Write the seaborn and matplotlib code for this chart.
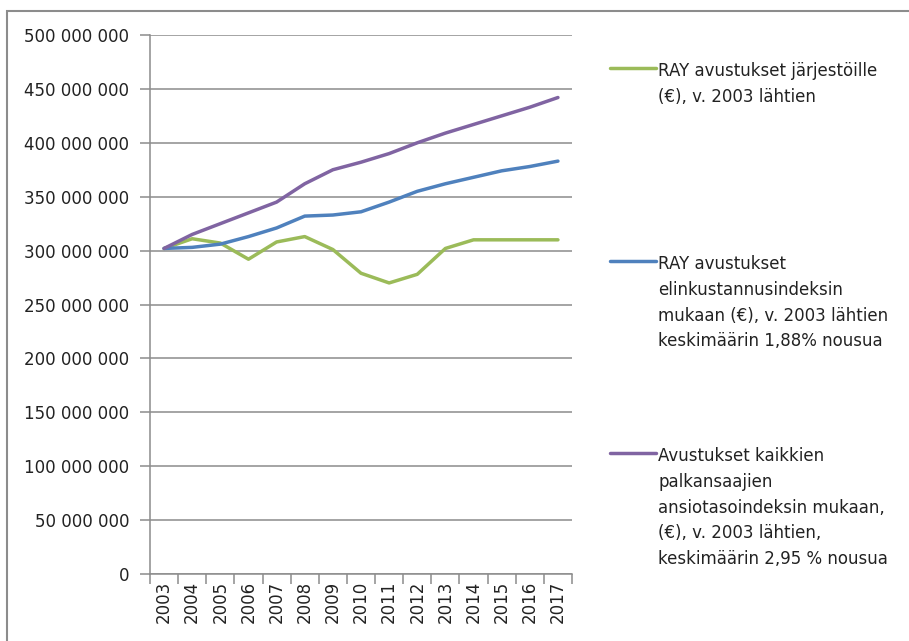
import matplotlib
matplotlib.use("Agg")
import matplotlib.pyplot as plt
import matplotlib.ticker as mticker
from matplotlib.lines import Line2D
from matplotlib.patches import Rectangle
import numpy as np
import pandas as pd
import seaborn as sns

years = ["2003", "2004", "2005", "2006", "2007", "2008", "2009", "2010",
         "2011", "2012", "2013", "2014", "2015", "2016", "2017"]

ray_avustukset = [302e6, 311e6, 307e6, 292e6, 308e6, 313e6, 301e6, 279e6,
                  270e6, 278e6, 302e6, 310e6, 310e6, 310e6, 310e6]
elinkustannus = [302e6, 303e6, 306e6, 313e6, 321e6, 332e6, 333e6, 336e6,
                 345e6, 355e6, 362e6, 368e6, 374e6, 378e6, 383e6]
ansiotaso = [302e6, 315e6, 325e6, 335e6, 345e6, 362e6, 375e6, 382e6,
             390e6, 400e6, 409e6, 417e6, 425e6, 433e6, 442e6]

series_labels = [
    "RAY avustukset järjestöille\n(€), v. 2003 lähtien",
    "RAY avustukset\nelinkustannusindeksin\nmukaan (€), v. 2003 lähtien\nkeskimäärin 1,88% nousua",
    "Avustukset kaikkien\npalkansaajien\nansiotasoindeksin mukaan,\n(€), v. 2003 lähtien,\nkeskimäärin 2,95 % nousua",
]
colors = ["#9BBB59", "#4F81BD", "#8064A2"]

sns.set_theme(style="white")
plt.rcParams["font.family"] = ["DejaVu Sans"]

df = pd.concat([
    pd.DataFrame({"vuosi": years, "arvo": vals, "sarja": lab})
    for vals, lab in zip([ray_avustukset, elinkustannus, ansiotaso], series_labels)
], ignore_index=True)

fig = plt.figure(figsize=(9.09, 6.41), dpi=100)
ax = fig.add_axes([150 / 909, 1 - 574 / 641, (572 - 150) / 909, (574 - 35) / 641])

sns.lineplot(data=df, x="vuosi", y="arvo", hue="sarja", palette=colors,
             linewidth=2.5, ax=ax, legend=False, sort=False)

ax.set_xlim(-0.5, len(years) - 0.5)
ax.set_ylim(0, 500e6)
ax.set_xlabel("")
ax.set_ylabel("")

# y axis: gridlines every 50 million, thousands separated by spaces
ax.yaxis.set_major_locator(mticker.MultipleLocator(50e6))
ax.yaxis.set_major_formatter(mticker.FuncFormatter(
    lambda v, p: f"{int(round(v)):,}".replace(",", " ")))
ax.grid(axis="y", color="#8c8c8c", linewidth=1.1)
ax.set_axisbelow(True)

# x axis: tick marks between categories, labels centred on categories
ax.xaxis.set_major_locator(mticker.FixedLocator(np.arange(-0.5, len(years), 1.0)))
ax.xaxis.set_major_formatter(mticker.NullFormatter())
ax.xaxis.set_minor_locator(mticker.FixedLocator(np.arange(len(years))))
ax.xaxis.set_minor_formatter(mticker.FixedFormatter(years))
ax.tick_params(axis="x", which="minor", length=0, labelsize=12, rotation=90,
               pad=5, labelcolor="#222222")
ax.tick_params(axis="x", which="major", length=7, width=1.1, color="#8c8c8c",
               direction="out", bottom=True)
ax.tick_params(axis="y", length=7, width=1.1, color="#8c8c8c", direction="out",
               left=True, labelsize=12, labelcolor="#222222", pad=8)

for side in ["top", "right"]:
    ax.spines[side].set_visible(False)
for side in ["left", "bottom"]:
    ax.spines[side].set_color("#8c8c8c")
    ax.spines[side].set_linewidth(1.1)

# legend entries placed down the right side
legend_tops = [70 / 641, 263 / 641, 455 / 641]
for i, (lab, col, top) in enumerate(zip(series_labels, colors, legend_tops)):
    handle = Line2D([], [], color=col, linewidth=2.5)
    leg = fig.legend([handle], [lab], loc="upper left",
                     bbox_to_anchor=(610 / 909, 1 - top + 0.012),
                     frameon=False, fontsize=12, handlelength=2.75,
                     handletextpad=0.15, borderpad=0, borderaxespad=0)
    for t in leg.get_texts():
        t.set_linespacing(1.55)
        t.set_color("#222222")
    for col_box in leg._legend_handle_box.get_children():
        for row in col_box.get_children():
            row.align = "top"

fig.patches.append(Rectangle((7 / 909, -0.1), 1.2, 1 - 10.5 / 641 + 0.1,
                             transform=fig.transFigure, fill=False,
                             edgecolor="#8c8c8c", linewidth=1.5))

fig.savefig("out.png", dpi=100)
